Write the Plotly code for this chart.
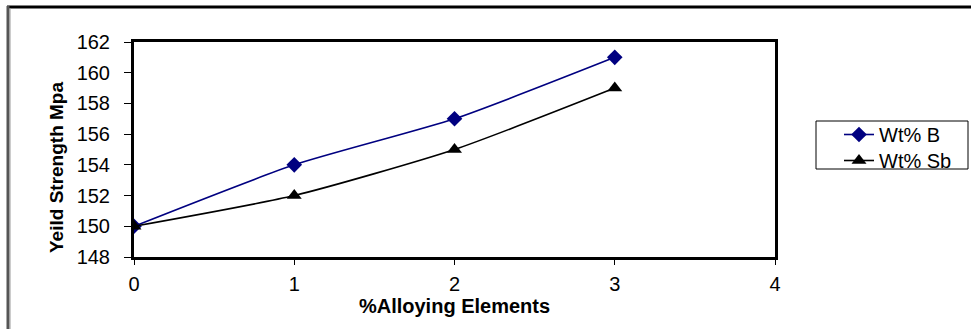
import plotly.graph_objects as go

x_vals = [0, 1, 2, 3]
wt_b = [150, 154, 157, 161]
wt_sb = [150, 152, 155, 159]
series_names = ["Wt% B", "Wt% Sb"]
x_title = "%Alloying Elements"
y_title = "Yeild Strength Mpa"

W, H = 971, 329
L, R, T, B = 134, 775, 42, 257

def px_x(p):
    return (p - L) / (R - L)

def px_y(p):
    return (B - p) / (B - T)

fig = go.Figure()
fig.add_trace(go.Scatter(
    x=x_vals, y=wt_b, name=series_names[0], mode="lines+markers",
    line=dict(color="#000080", width=1.6, shape="spline", smoothing=0.6),
    marker=dict(symbol="diamond", size=12, color="#000080"),
    legend="legend",
))
fig.add_trace(go.Scatter(
    x=x_vals, y=wt_sb, name=series_names[1], mode="lines+markers",
    line=dict(color="#000000", width=1.6, shape="spline", smoothing=0.6),
    marker=dict(symbol="triangle-up", size=13, color="#000000"),
    legend="legend2",
))

font_family = "Liberation Sans, Arial, sans-serif"

leg_common = dict(
    xanchor="left", yanchor="top",
    borderwidth=0, bgcolor="rgba(0,0,0,0)",
    font=dict(size=20, family=font_family),
    tracegroupgap=0, itemwidth=30,
)

fig.update_layout(
    width=W, height=H,
    margin=dict(l=L, r=W - R, t=T, b=H - B, pad=0),
    paper_bgcolor="white", plot_bgcolor="white",
    font=dict(family=font_family, color="black", size=20),
    showlegend=True,
    legend=dict(x=px_x(839), y=px_y(115), **leg_common),
    legend2=dict(x=px_x(839), y=px_y(141), **leg_common),
    xaxis=dict(
        range=[0, 4], dtick=1, tick0=0, showgrid=False, zeroline=False,
        showline=True, linecolor="black", linewidth=3, mirror=True,
        ticks="outside", ticklen=5, tickwidth=1, tickcolor="black",
        tickfont=dict(size=20), ticklabelstandoff=2,
        title=dict(text="<b>" + x_title + "</b>", font=dict(size=20), standoff=0),
    ),
    yaxis=dict(
        range=[148, 162], dtick=2, tick0=148, showgrid=False, zeroline=False,
        showline=True, linecolor="black", linewidth=3, mirror=True,
        ticks="outside", ticklen=7, tickwidth=1, tickcolor="black",
        tickfont=dict(size=20), ticklabelstandoff=10,
    ),
    annotations=[dict(
        text="<b>" + y_title + "</b>", textangle=-90,
        xref="paper", yref="paper", x=px_x(56), y=px_y(168),
        xanchor="center", yanchor="middle", showarrow=False,
        font=dict(size=19, family=font_family),
    )],
    shapes=[
        dict(type="line", xref="paper", yref="paper",
             x0=px_x(7), x1=px_x(971), y0=px_y(7), y1=px_y(7),
             line=dict(color="black", width=3)),
        dict(type="line", xref="paper", yref="paper",
             x0=px_x(8), x1=px_x(8), y0=px_y(6), y1=px_y(329),
             line=dict(color="#555555", width=3)),
        dict(type="line", xref="paper", yref="paper",
             x0=px_x(10), x1=px_x(10), y0=px_y(8), y1=px_y(329),
             line=dict(color="#9a9a9a", width=1)),
        dict(type="rect", xref="paper", yref="paper",
             x0=px_x(816), x1=px_x(968), y0=px_y(121), y1=px_y(169),
             line=dict(color="black", width=1)),
    ],
)

fig.write_html("out.html")
